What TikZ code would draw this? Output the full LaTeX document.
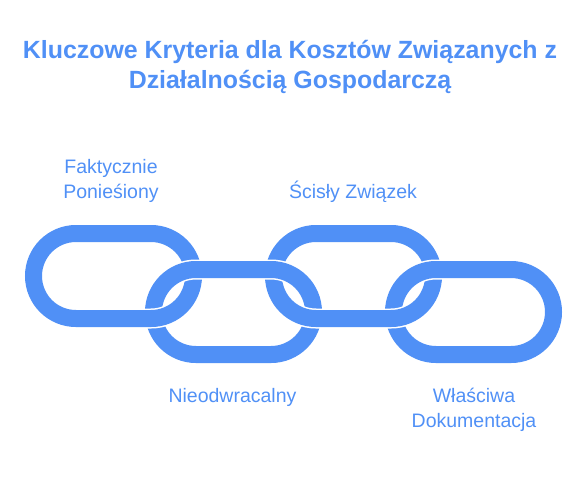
\documentclass[tikz,border=0pt]{standalone}
\usepackage{fontspec}
\setmainfont{Liberation Sans}
\definecolor{chainblue}{RGB}{80,144,246}

\begin{document}
\begin{tikzpicture}[x=1pt,y=-1pt,
	link/.style={draw=chainblue, line width=17pt, rounded corners=42.5pt, preaction={draw=white, line width=20pt}},
	heading/.style={text=chainblue, font=\fontsize{24.9}{30}\selectfont\bfseries, align=center, anchor=base, inner sep=0pt},
	crit/.style={text=chainblue, font=\fontsize{19.5}{24.5}\selectfont, align=center, anchor=base, inner sep=0pt}]
				\useasboundingbox (0,0) rectangle (588,480);
				%%%title
				\node[heading] at (290,88) (head) {Kluczowe Kryteria dla Kosztów Związanych z\\Działalnością Gospodarczą};
				%%%links
				%upper
				\foreach \x in {113.5,353.5}
					\draw[link] (\x-80,233.5) rectangle (\x+80,318.5);
				%lower
				\foreach \x in {233.5,473.5}
					\draw[link] (\x-80,269.5) rectangle (\x+80,354.5);
				%upper again, bottom half goes over
				\begin{scope}
					\clip (0,294) rectangle (588,480);
					\foreach \x in {113.5,353.5}
						\draw[link] (\x-80,233.5) rectangle (\x+80,318.5);
				\end{scope}
				%%%criteria
				%above
				\node[crit] at (111,198) (c1) {Faktycznie\\Ponieśiony};
				\node[crit] at (353,198) (c2) {Ścisły Związek};
				%below
				\node[crit] at (232.5,402) (c3) {Nieodwracalny};
				\node[crit] at (474,427) (c4) {Właściwa\\Dokumentacja};
			\end{tikzpicture}
\end{document}
